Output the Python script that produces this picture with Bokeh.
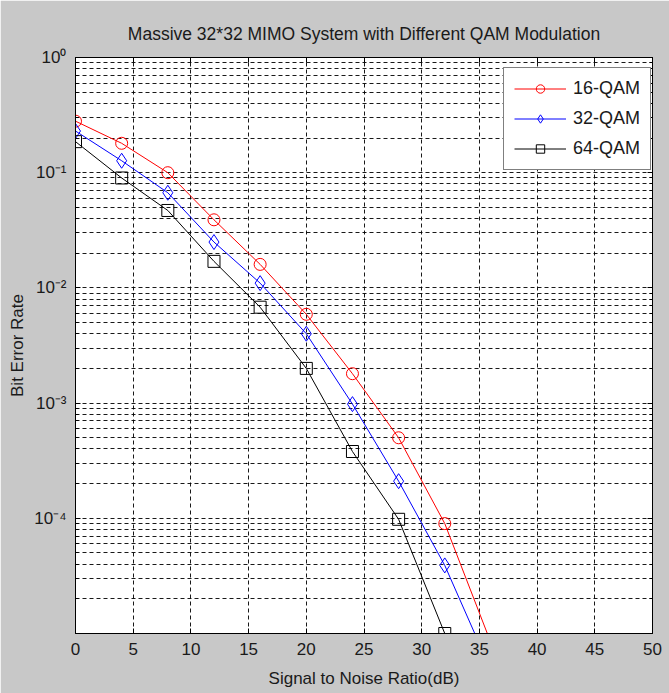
from bokeh.plotting import figure
from bokeh.models import FixedTicker, Range1d, LinearAxis, LogAxis
from bokeh.embed import file_html
from bokeh.resources import INLINE

# ---- data ----
snr_db = [0, 4, 8, 12, 16, 20, 24, 28, 32, 36]
ber_16qam = [0.28, 0.18, 0.10, 0.039, 0.016, 0.0059, 0.0018, 0.0005, 0.00009, 0.0000083]
ber_32qam = [0.23, 0.127, 0.067, 0.025, 0.011, 0.004, 0.00098, 0.00021, 0.000039, 0.0000048]
snr_db_64 = [0, 4, 8, 12, 16, 20, 24, 28, 32]
ber_64qam = [0.186, 0.09, 0.047, 0.017, 0.0068, 0.002, 0.00038, 0.000098, 0.00001]

x_ticks = [0, 5, 10, 15, 20, 25, 30, 35, 40, 45, 50]
y_major = [1e-4, 1e-3, 1e-2, 1e-1, 1.0]
y_labels = {1.0: "10\u2070", 0.1: "10\u207b\u00b9", 0.01: "10\u207b\u00b2",
            0.001: "10\u207b\u00b3", 0.0001: "10\u207b\u2074"}
y_minor = [k * 10.0 ** e for e in range(-5, 0) for k in range(2, 10)]

FONT = "Liberation Sans"
TXT = "#1a1a1a"
GRAY = "#c8c8c8"

p = figure(width=669, height=693, y_axis_type="log",
           x_range=Range1d(0, 50), y_range=Range1d(1e-5, 1.0),
           output_backend="svg", toolbar_location=None,
           title="Massive 32*32 MIMO System with Different QAM Modulation",
           min_border_left=75, min_border_right=17, min_border_top=57, min_border_bottom=60)

bottom_ax = p.xaxis[0]
left_ax = p.yaxis[0]

p.background_fill_color = "white"
p.border_fill_color = GRAY
p.outline_line_color = "black"
p.outline_line_width = 1

p.title.align = "center"
p.title.text_font = FONT
p.title.text_font_size = "17.5px"
p.title.text_font_style = "normal"
p.title.text_color = TXT
p.title.standoff = 28

# axes
bottom_ax.ticker = FixedTicker(ticks=x_ticks)
left_ax.ticker = FixedTicker(ticks=y_major, minor_ticks=y_minor)
left_ax.major_label_overrides = y_labels
for ax in (bottom_ax, left_ax):
    ax.axis_line_color = "black"
    ax.major_tick_in = 5
    ax.major_tick_out = 0
    ax.minor_tick_in = 3
    ax.minor_tick_out = 0
    ax.major_tick_line_color = "black"
    ax.minor_tick_line_color = "black"
    ax.major_label_text_font = FONT
    ax.major_label_text_font_size = "17px"
    ax.major_label_text_color = TXT
    ax.axis_label_text_font = FONT
    ax.axis_label_text_font_size = "17px"
    ax.axis_label_text_font_style = "normal"
    ax.axis_label_text_color = TXT
bottom_ax.major_label_standoff = 9
left_ax.major_label_standoff = 9
bottom_ax.axis_label = "Signal to Noise Ratio(dB)"
left_ax.axis_label = "Bit Error Rate"
bottom_ax.axis_label_standoff = 11
left_ax.axis_label_standoff = 4

# grids
p.xgrid.ticker = FixedTicker(ticks=x_ticks)
p.ygrid.ticker = FixedTicker(ticks=y_major, minor_ticks=y_minor)
for g in (p.xgrid[0], p.ygrid[0]):
    g.grid_line_color = "black"
    g.grid_line_alpha = 0.9
    g.grid_line_dash = "4 3"
    g.grid_line_width = 1
p.ygrid.minor_grid_line_color = "black"
p.ygrid.minor_grid_line_alpha = 0.9
p.ygrid.minor_grid_line_dash = "4 3"

# series
p.line(snr_db, ber_16qam, color="red", line_width=1, legend_label="16-QAM")
p.scatter(snr_db, ber_16qam, marker="circle", size=12, line_color="red",
          fill_alpha=0, line_width=1, legend_label="16-QAM")
p.line(snr_db, ber_32qam, color="blue", line_width=1, legend_label="32-QAM")
p.scatter(snr_db, ber_32qam, marker="diamond", size=15, line_color="blue",
          fill_alpha=0, line_width=1, legend_label="32-QAM")
p.line(snr_db_64, ber_64qam, color="black", line_width=1, legend_label="64-QAM")
p.scatter(snr_db_64, ber_64qam, marker="square", size=12, line_color="black",
          fill_alpha=0, line_width=1, legend_label="64-QAM")

lg = p.legend[0]
lg.location = (428, 463)
lg.border_line_color = "black"
lg.border_line_width = 1
lg.background_fill_color = "white"
lg.background_fill_alpha = 1
lg.label_text_font = FONT
lg.label_text_font_size = "18px"
lg.label_text_color = TXT
lg.glyph_width = 52
lg.glyph_height = 21
lg.label_height = 21
lg.label_standoff = 7
lg.spacing = 9
lg.padding = 10
lg.margin = 0

# extra box axes (ticks only, no labels) on top and right, like the reference
top_ax = LinearAxis(ticker=FixedTicker(ticks=x_ticks),
                    major_label_overrides={t: " " for t in x_ticks})
right_ax = LogAxis(ticker=FixedTicker(ticks=y_major, minor_ticks=y_minor),
                   major_label_overrides={t: " " for t in y_major})
for ax in (top_ax, right_ax):
    ax.major_label_text_alpha = 0
    ax.major_label_text_font_size = "2px"
    ax.major_label_standoff = 0
    ax.major_tick_in = 5
    ax.major_tick_out = 0
    ax.minor_tick_in = 3
    ax.minor_tick_out = 0
    ax.axis_line_color = "black"
    ax.major_tick_line_color = "black"
    ax.minor_tick_line_color = "black"
p.add_layout(top_ax, "above")
p.add_layout(right_ax, "right")

open("out.html", "w").write(file_html(p, INLINE))
